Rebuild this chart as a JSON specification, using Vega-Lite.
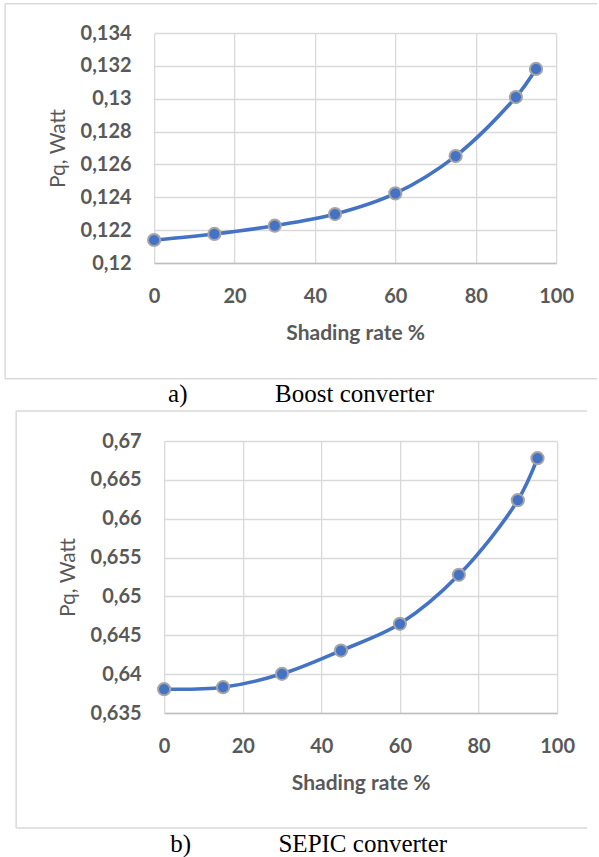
{
  "$schema": "https://vega.github.io/schema/vega-lite/v6.json",
  "padding": {"left": 4, "top": 2, "right": 0, "bottom": 0},
  "background": "white",
  "datasets": {
    "boost": [
      {"shading": 0, "pq": 0.1214},
      {"shading": 15, "pq": 0.12177},
      {"shading": 30, "pq": 0.12227},
      {"shading": 45, "pq": 0.12298},
      {"shading": 60, "pq": 0.12424},
      {"shading": 75, "pq": 0.12651},
      {"shading": 90, "pq": 0.1301},
      {"shading": 95, "pq": 0.13181}
    ],
    "sepic": [
      {"shading": 0, "pq": 0.63806},
      {"shading": 15, "pq": 0.63832},
      {"shading": 30, "pq": 0.64004},
      {"shading": 45, "pq": 0.64304},
      {"shading": 60, "pq": 0.64648},
      {"shading": 75, "pq": 0.65278},
      {"shading": 90, "pq": 0.66238},
      {"shading": 95, "pq": 0.66779}
    ],
    "frame": [{"part": "frame"}]
  },
  "concat": [
    {
      "width": 402,
      "height": 230,
      "title": {"text": "a)\u00a0\u00a0\u00a0\u00a0\u00a0\u00a0\u00a0\u00a0\u00a0\u00a0\u00a0\u00a0\u00a0\u00a0Boost converter", "orient": "bottom", "anchor": "start", "frame": "group", "dx": 14, "offset": 3, "font": "Liberation Serif", "fontSize": 25, "fontWeight": "normal", "color": "#000000"},
      "layer": [
        {
          "data": {"name": "frame"},
          "mark": {"type": "rule", "color": "#d9d9d9", "strokeWidth": 1.5},
          "encoding": {"x": {"datum": -37.06}, "x2": {"datum": 110.2}, "y": {"datum": 0.135783}}
        },
        {
          "data": {"name": "frame"},
          "mark": {"type": "rule", "color": "#d9d9d9", "strokeWidth": 1.5},
          "encoding": {"x": {"datum": -37.06}, "x2": {"datum": 110.2}, "y": {"datum": 0.112957}}
        },
        {
          "data": {"name": "frame"},
          "mark": {"type": "rule", "color": "#d9d9d9", "strokeWidth": 1.5},
          "encoding": {"x": {"datum": -37.06}, "y": {"datum": 0.135783}, "y2": {"datum": 0.112957}}
        },
        {
          "data": {"name": "boost"},
          "mark": {"type": "line", "interpolate": "catmull-rom", "color": "#4472c4", "strokeWidth": 3.6},
          "encoding": {
            "x": {"field": "shading", "type": "quantitative", "scale": {"domain": [0, 100], "nice": false},
                  "axis": {"values": [0, 20, 40, 60, 80, 100], "title": "Shading rate %", "tickCount": 12}},
            "y": {"field": "pq", "type": "quantitative", "scale": {"domain": [0.12, 0.134], "nice": false, "zero": false},
                  "axis": {"values": [0.12, 0.122, 0.124, 0.126, 0.128, 0.13, 0.132, 0.134], "title": "Pq, Watt", "tickCount": 12}}
          }
        },
        {
          "data": {"name": "boost"},
          "mark": {"type": "point", "shape": "circle", "filled": true, "fill": "#4472c4", "stroke": "#a5a5a5", "strokeWidth": 2, "size": 150, "opacity": 1},
          "encoding": {
            "x": {"field": "shading", "type": "quantitative"},
            "y": {"field": "pq", "type": "quantitative"}
          }
        }
      ]
    },
    {
      "width": 393,
      "height": 272,
      "title": {"text": "b)\u00a0\u00a0\u00a0\u00a0\u00a0\u00a0\u00a0\u00a0\u00a0\u00a0\u00a0\u00a0\u00a0\u00a0SEPIC converter", "orient": "bottom", "anchor": "start", "frame": "group", "dx": 6, "offset": 3, "font": "Liberation Serif", "fontSize": 25, "fontWeight": "normal", "color": "#000000"},
      "layer": [
        {
          "data": {"name": "frame"},
          "mark": {"type": "rule", "color": "#d9d9d9", "strokeWidth": 1.5},
          "encoding": {"x": {"datum": -37.66}, "x2": {"datum": 107.63}, "y": {"datum": 0.67386}}
        },
        {
          "data": {"name": "frame"},
          "mark": {"type": "rule", "color": "#d9d9d9", "strokeWidth": 1.5},
          "encoding": {"x": {"datum": -37.66}, "x2": {"datum": 107.63}, "y": {"datum": 0.6202}}
        },
        {
          "data": {"name": "frame"},
          "mark": {"type": "rule", "color": "#d9d9d9", "strokeWidth": 1.5},
          "encoding": {"x": {"datum": -37.66}, "y": {"datum": 0.67386}, "y2": {"datum": 0.6202}}
        },
        {
          "data": {"name": "sepic"},
          "mark": {"type": "line", "interpolate": "catmull-rom", "color": "#4472c4", "strokeWidth": 3.6},
          "encoding": {
            "x": {"field": "shading", "type": "quantitative", "scale": {"domain": [0, 100], "nice": false},
                  "axis": {"values": [0, 20, 40, 60, 80, 100], "title": "Shading rate %", "tickCount": 12}},
            "y": {"field": "pq", "type": "quantitative", "scale": {"domain": [0.635, 0.67], "nice": false, "zero": false},
                  "axis": {"values": [0.635, 0.64, 0.645, 0.65, 0.655, 0.66, 0.665, 0.67], "title": "Pq, Watt", "tickCount": 12}}
          }
        },
        {
          "data": {"name": "sepic"},
          "mark": {"type": "point", "shape": "circle", "filled": true, "fill": "#4472c4", "stroke": "#a5a5a5", "strokeWidth": 2, "size": 150, "opacity": 1},
          "encoding": {
            "x": {"field": "shading", "type": "quantitative"},
            "y": {"field": "pq", "type": "quantitative"}
          }
        }
      ]
    }
  ],
  "columns": 1,
  "align": "each",
  "center": true,
  "spacing": 2,
  "config": {
    "view": {"stroke": null},
    "font": "Lato",
    "axis": {
      "labelColor": "#595959",
      "titleColor": "#595959",
      "labelFont": "Lato",
      "titleFont": "Lato",
      "labelFontSize": 20,
      "labelFontWeight": "bold",
      "labelOverlap": false,
      "labelFlush": false,
      "ticks": false,
      "grid": true,
      "gridColor": "#d9d9d9",
      "gridWidth": 1.3,
      "domainColor": "#bfbfbf",
      "domainWidth": 1.5,
      "labelPadding": 23
    },
    "axisX": {"titleFontSize": 21, "titleFontWeight": "bold", "titlePadding": 16},
    "axisY": {"titleFontSize": 21, "titleFontWeight": "normal", "titlePadding": 12, "domain": false,
              "labelExpr": "replace(format(datum.value, '.3~f'), '.', ',')"}
  }
}
